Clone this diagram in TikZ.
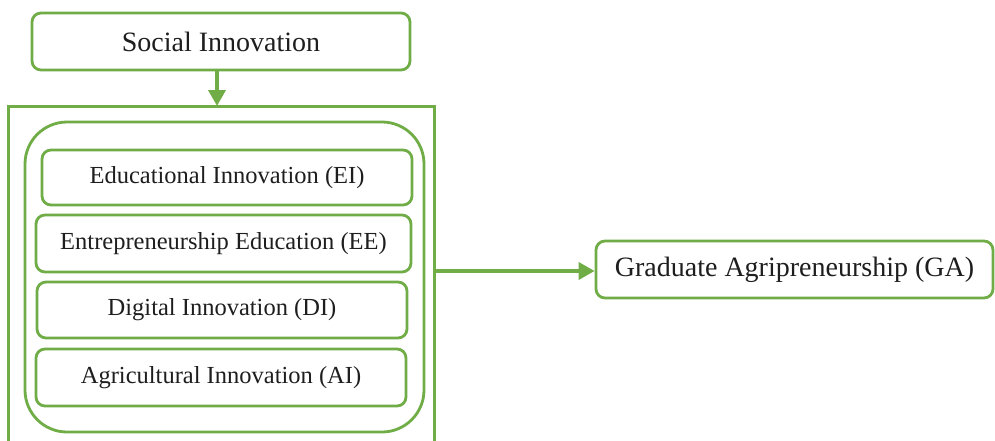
\documentclass[tikz,border=0pt]{standalone}
\usepackage{fontspec}
\setmainfont{Liberation Serif}
\usetikzlibrary{arrows.meta}
\definecolor{grn}{RGB}{112,173,71}
\definecolor{txt}{RGB}{30,30,30}
\tikzset{
  box/.style={draw=grn, line width=2.8pt, rounded corners=9pt, fill=white, inner sep=0pt, text=txt, font=\fontsize{24.5}{29}\selectfont},
  bigbox/.style={box, font=\fontsize{28}{32}\selectfont},
  arr/.style={draw=grn, line width=3.6pt, -{Triangle[length=16pt,width=17pt]}},
  outerline/.style={draw=grn, line width=3.2pt}
}
\begin{document}
\begin{tikzpicture}[x=1pt,y=-1pt]
\fill[white] (0,0) rectangle (995,440);
\useasboundingbox (0,0) rectangle (995,440);
% outer frame (bottom edge lies below the picture)
\coordinate (top) at (217,106);
\coordinate (start) at (435,271);
\coordinate (fbl) at (8.5,446);
\coordinate (ftl) at (8.5,106.5);
\coordinate (ftr) at (434.5,106.5);
\coordinate (fbr) at (434.5,446);
\draw[outerline] (fbl) -- (ftl) -- (ftr) -- (fbr);
% inner rounded group
\node[draw=grn, line width=2.8pt, rounded corners=42pt, minimum width=399pt, minimum height=310pt, inner sep=0pt] (group) at (224.5,277) {};
\node[bigbox, minimum width=378pt, minimum height=57pt] (SI) at (221,41.5) {Social Innovation};
\node[box, minimum width=370pt, minimum height=55pt] (EI) at (227,177.5) {Educational Innovation (EI)};
\node[box, minimum width=375pt, minimum height=57pt] (EE) at (223.5,243.5) {Entrepreneurship Education (EE)};
\node[box, minimum width=370pt, minimum height=56pt] (DI) at (222,310) {Digital Innovation (DI)};
\node[box, minimum width=370pt, minimum height=57pt] (AI) at (221,377.5) {Agricultural Innovation (AI)};
\node[bigbox, minimum width=397pt, minimum height=57pt] (GA) at (794.5,269.5) {Graduate Agripreneurship (GA)};
\draw[arr] (SI.south -| top) -- (top);
\draw[arr] (start) -- (GA.west |- start);
\end{tikzpicture}
\end{document}
